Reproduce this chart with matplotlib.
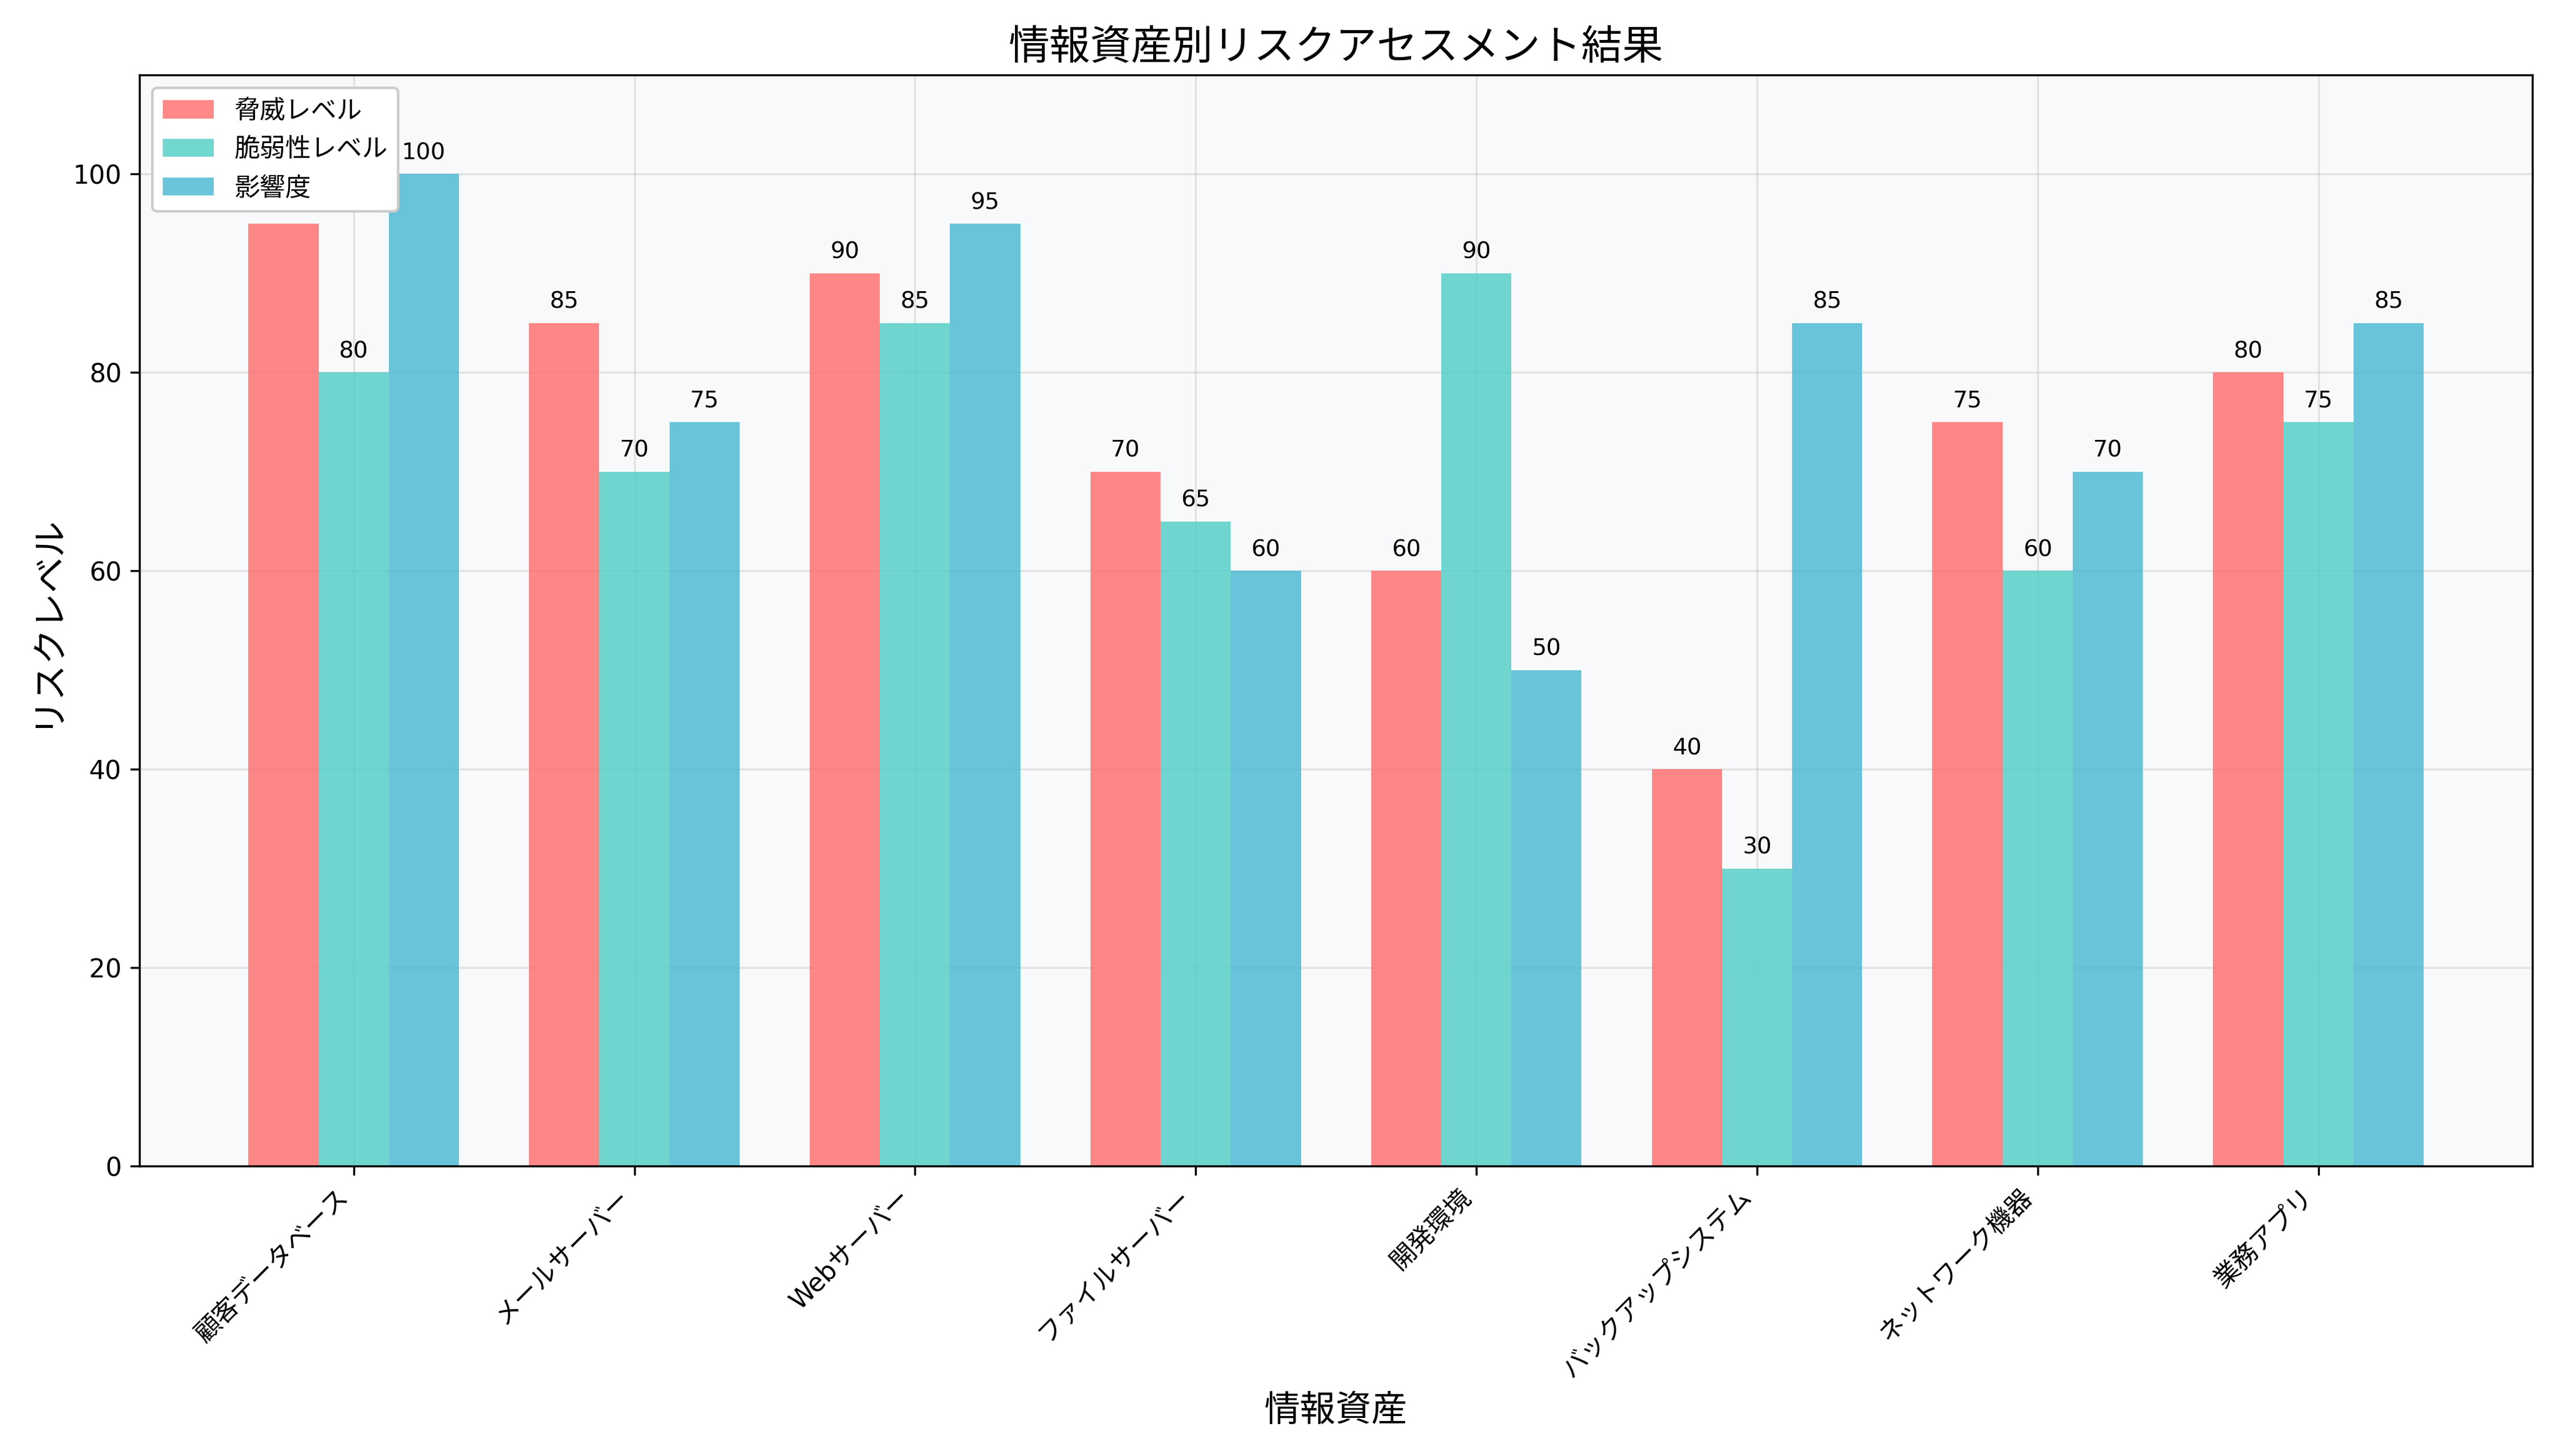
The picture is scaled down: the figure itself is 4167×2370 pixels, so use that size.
import matplotlib.pyplot as plt
import numpy as np

plt.rcParams['font.family'] = ['DejaVu Sans', 'Noto Sans CJK JP']

assets = ['顧客データベース', 'メールサーバー', 'Webサーバー', 'ファイルサーバー',
          '開発環境', 'バックアップシステム', 'ネットワーク機器', '業務アプリ']
threat = [95, 85, 90, 70, 60, 40, 75, 80]
vuln = [80, 70, 85, 65, 90, 30, 60, 75]
impact = [100, 75, 95, 60, 50, 85, 70, 85]

x = np.arange(len(assets))
w = 0.25

fig, ax = plt.subplots(figsize=(13.89, 7.9), dpi=300)
ax.set_facecolor('#f8f9fa')
b1 = ax.bar(x - w, threat, w, label='脅威レベル', color='#FF6B6B', alpha=0.8)
b2 = ax.bar(x, vuln, w, label='脆弱性レベル', color='#4ECDC4', alpha=0.8)
b3 = ax.bar(x + w, impact, w, label='影響度', color='#45B7D1', alpha=0.8)

for bars in (b1, b2, b3):
    for b in bars:
        ax.text(b.get_x() + b.get_width() / 2, b.get_height() + 1,
                f'{int(b.get_height())}', ha='center', va='bottom', fontsize=9)

ax.set_title('情報資産別リスクアセスメント結果', fontsize=16)
ax.set_xlabel('情報資産', fontsize=14)
ax.set_ylabel('リスクレベル', fontsize=14)
ax.set_xticks(x)
ax.set_xticklabels(assets, rotation=45, ha='right')
ax.set_ylim(0, 110)
ax.grid(True, alpha=0.3)
ax.set_axisbelow(True)
ax.legend(loc='upper left', framealpha=1).set_zorder(5)
plt.tight_layout()
plt.savefig('out.png', dpi=300)
